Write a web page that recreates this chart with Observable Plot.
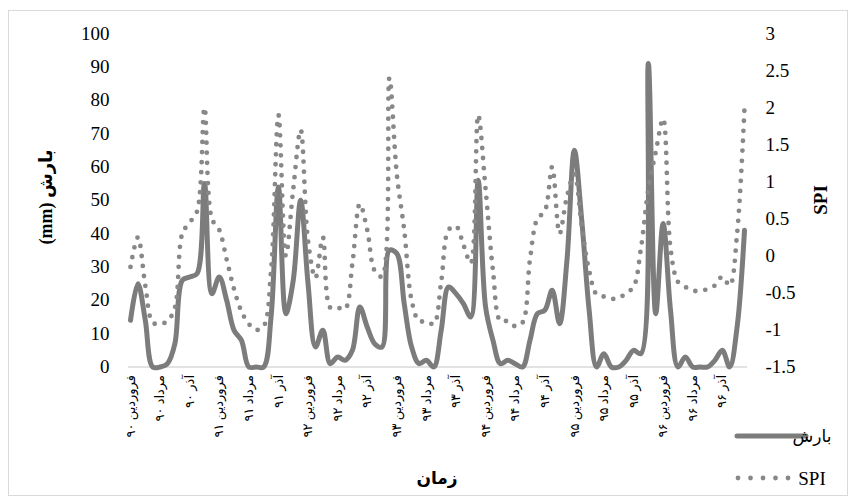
<!DOCTYPE html>
<html><head><meta charset="utf-8">
<script src="https://cdn.jsdelivr.net/npm/d3@7"></script>
<script src="https://cdn.jsdelivr.net/npm/@observablehq/plot@0.6"></script>
<style>
body{margin:0;background:#fff;}
#wrap{position:relative;width:855px;height:503px;overflow:hidden;}
#border{position:absolute;left:8px;top:10px;width:840px;height:486px;border:1px solid #d9d9d9;box-sizing:border-box;pointer-events:none;}
#wrap svg{position:absolute;left:0;top:0;}
</style></head><body><div id="wrap"><div id="border"></div></div>
<script>
// Monthly precipitation (mm), Farvardin 90 .. Esfand 96
const precip = [14,25,14,0,0,1,7,26,27,28,55,22,27,20,11,8,0,0,0,15,54,16,26,50,25,6,11,1,3,2,5,18,12,7,6,35,34,19,6,1,2,0,11,24,22,19,15,56,18,8,1,2,1,0,8,16,17,23,13,32,65,44,17,0,4,0,0,2,5,4,91,16,43,17,0,3,0,0,0,2,5,0,12,41];
// SPI
const spi = [-0.15,0.25,-0.4,-0.9,-0.92,-0.88,-0.7,0.3,0.45,0.6,2.0,0.5,0.35,-0.05,-0.45,-0.75,-0.92,-1.0,-0.95,-0.2,1.9,0.0,0.9,1.7,0.2,-0.3,0.25,-0.7,-0.7,-0.72,-0.1,0.7,0.35,-0.2,-0.28,2.4,1.1,0.35,-0.6,-0.88,-0.88,-0.92,-0.35,0.35,0.4,0.15,-0.1,1.9,0.9,-0.2,-0.88,-0.88,-0.95,-0.9,-0.05,0.5,0.6,1.2,0.3,0.8,1.1,0.4,-0.2,-0.52,-0.55,-0.58,-0.57,-0.5,-0.42,0.1,0.9,1.4,1.85,0.1,-0.35,-0.42,-0.47,-0.47,-0.45,-0.4,-0.28,-0.4,0.3,2.0];
// x tick labels, every 4th month
const xLabels = ["فروردین ۹۰","مرداد ۹۰","آذر ۹۰","فروردین ۹۱","مرداد ۹۱","آذر ۹۱","فروردین ۹۲","مرداد ۹۲","آذر ۹۲","فروردین ۹۳","مرداد ۹۳","آذر ۹۳","فروردین ۹۴","مرداد ۹۴","آذر ۹۴","فروردین ۹۵","مرداد ۹۵","آذر ۹۵","فروردین ۹۶","مرداد ۹۶","آذر ۹۶"];
const labelStep = 4;
const yTicks = [0,10,20,30,40,50,60,70,80,90,100];
const spiTicks = [-1.5,-1,-0.5,0,0.5,1,1.5,2,2.5,3];
const seriesNames = ["بارش","SPI"];
const yTitle = "(mm) بارش";
const y2Title = "SPI";
const xTitle = "زمان";

const spiMin = -1.5, spiMax = 3, pMax = 100;
const toP = s => (s - spiMin) * pMax / (spiMax - spiMin);
const fromP = p => Math.round((p * (spiMax - spiMin) / pMax + spiMin) * 100) / 100;

const data = precip.map((p, i) => ({i, p, s: toP(spi[i])}));
const xTickPos = xLabels.map((_, k) => k * labelStep);

const serif = "'Liberation Serif', 'Times New Roman', serif";
const arab = "'Liberation Serif', 'DejaVu Sans', serif";
const solid = "#7c7c7c", dots = "#888888";

const chart = Plot.plot({
  width: 855, height: 503,
  marginLeft: 128, marginRight: 108, marginTop: 33, marginBottom: 136.5,
  x: {domain: [0, precip.length - 1], insetLeft: 2, insetRight: 3},
  y: {domain: [0, pMax]},
  style: {fontFamily: serif, fontSize: "19px", color: "#000", background: "transparent", overflow: "visible"},
  marks: [
    Plot.ruleY([0], {stroke: "#d9d9d9", strokeWidth: 1.5}),
    Plot.axisY(yTicks, {tickSize: 0, tickPadding: 19, label: null, fontSize: 19, fontFamily: serif}),
    Plot.axisY(spiTicks.map(toP), {anchor: "right", tickSize: 0, tickPadding: 18, label: null, fontSize: 19, fontFamily: serif, tickFormat: d => String(fromP(d))}),
    Plot.axisX(xTickPos, {tickSize: 0, tickPadding: 8, tickRotate: -90, label: null, fontSize: 13, fontFamily: arab, tickFormat: d => xLabels[d / labelStep]}),
    Plot.line(data, {x: "i", y: "p", curve: "catmull-rom", stroke: solid, strokeWidth: 5, strokeLinejoin: "round"}),
    Plot.line(data, {x: "i", y: "s", curve: "catmull-rom", stroke: dots, strokeWidth: 4.8, strokeDasharray: "0,10", strokeLinecap: "round"})
  ]
});
document.getElementById("wrap").appendChild(chart);

// Titles and legend
const svg = d3.select(chart);
svg.append("text").attr("transform", "translate(52,197) rotate(-90)")
  .attr("text-anchor", "middle").attr("font-weight", "bold").attr("font-size", 18)
  .attr("font-family", arab).text(yTitle);
svg.append("text").attr("transform", "translate(827,200) rotate(-90)")
  .attr("text-anchor", "middle").attr("font-weight", "bold").attr("font-size", 19)
  .attr("font-family", serif).text(y2Title);
svg.append("text").attr("x", 437).attr("y", 484)
  .attr("text-anchor", "middle").attr("font-weight", "bold").attr("font-size", 17)
  .attr("font-family", arab).text(xTitle);

const leg = svg.append("g");
const legendRows = [
  {name: seriesNames[0], y: 436, dash: null, color: solid, w: 5, x1: 737, x2: 806},
  {name: seriesNames[1], y: 478, dash: "0,12.5", color: dots, w: 4.8, x1: 738, x2: 800}
];
legendRows.forEach(r => {
  leg.append("line").attr("x1", r.x1).attr("x2", r.x2).attr("y1", r.y).attr("y2", r.y)
    .attr("stroke", r.color).attr("stroke-width", r.w).attr("stroke-linecap", "round")
    .attr("stroke-dasharray", r.dash);
  leg.append("text").attr("x", 812).attr("y", r.y).attr("dy", "0.35em")
    .attr("font-size", r.name === "SPI" ? 19 : 17).attr("font-family", arab).text(r.name);
});
</script>
</body></html>
